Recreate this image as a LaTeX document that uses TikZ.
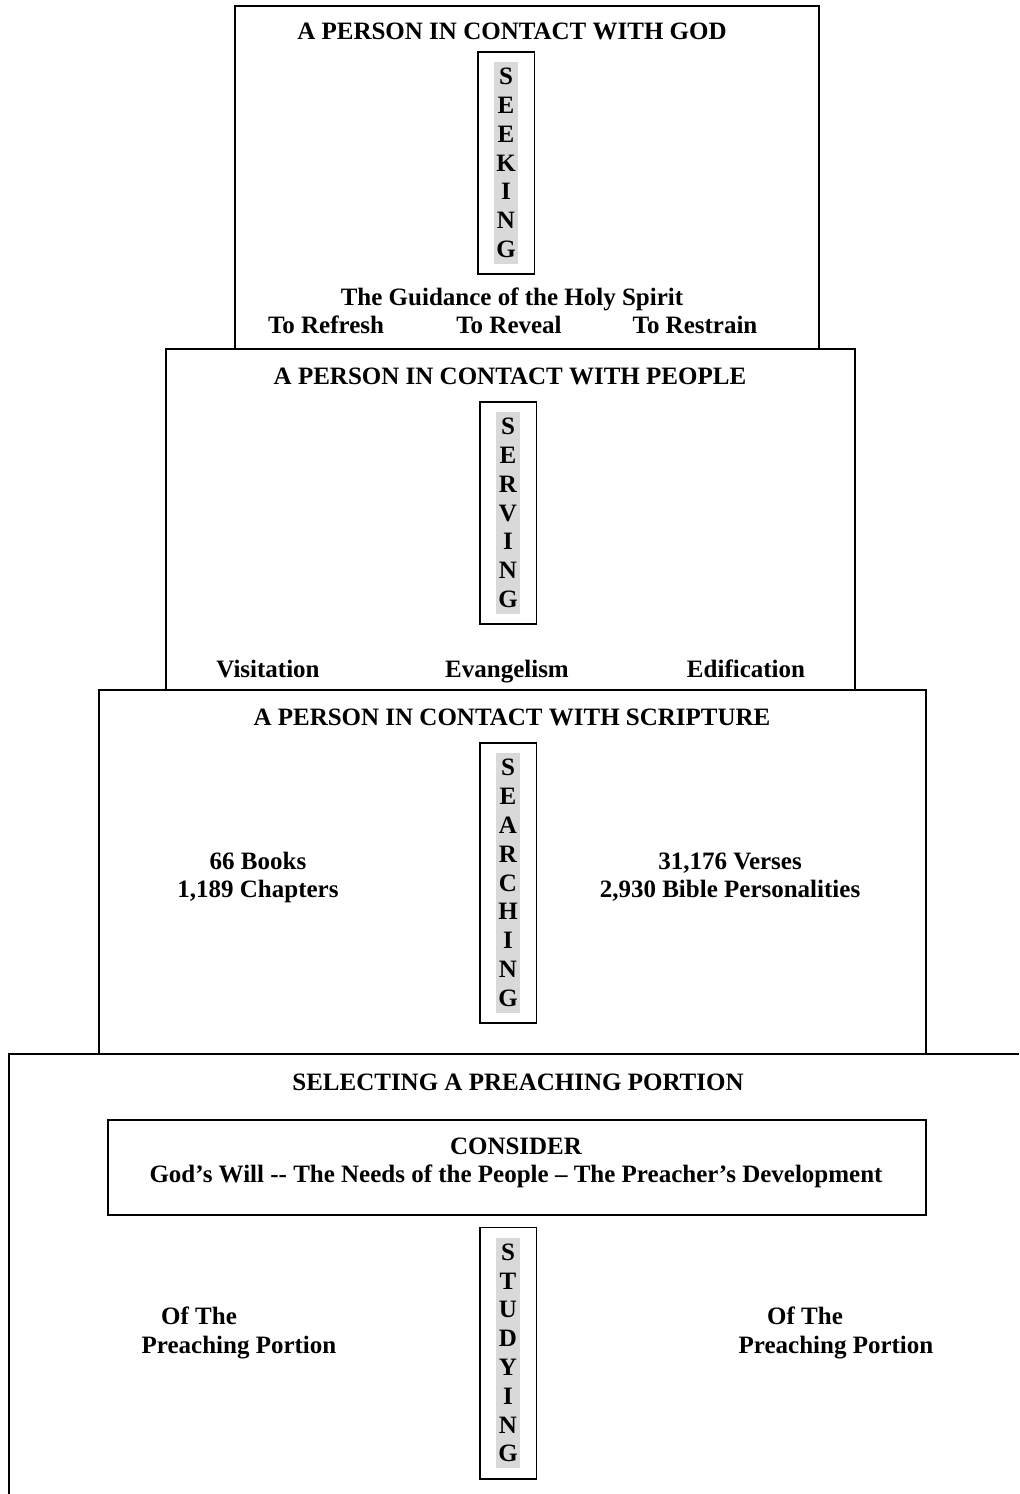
\documentclass[tikz,border=0pt]{standalone}
\usepackage{fontspec}
\setmainfont{Liberation Serif}
\usetikzlibrary{positioning,fit}

\begin{document}
\begin{tikzpicture}[
    x=0.5pt, y=-0.5pt,
    tier/.style={draw, line width=1pt},
    heading/.style={font=\bfseries\fontsize{12.5}{14}\selectfont, align=center, inner sep=0pt},
    caption/.style={heading, text height=8.8pt, text depth=0pt},
    letters/.style={fill=black!15, font=\bfseries\fontsize{12.5}{14.4}\selectfont, align=center, text width=12pt, inner xsep=0pt, inner ysep=3pt},
    wordbox/.style={draw, line width=0.9pt, inner xsep=8pt, inner ysep=5pt}
]
    \useasboundingbox (0,0) rectangle (1019,1494);

    % Tiers
    \draw[tier] (235,349) -- (235,6) -- (819,6) -- (819,349);
    \draw[tier] (166,690) -- (166,349) -- (855,349) -- (855,690);
    \draw[tier] (99,1054) -- (99,690) -- (926,690) -- (926,1054);
    \draw[tier] (9,1494) -- (9,1054) -- (1019,1054);

    % Contact with God
    \node[caption] (god) at (512,31) {A PERSON IN CONTACT WITH GOD};
    \node[letters] (seek) at (506,163) {S\\E\\E\\K\\I\\N\\G};
    \node[wordbox, fit=(seek)] (seekbox) {};
    \node[caption] (spirit) at (512,297) {The Guidance of the Holy Spirit};
    \node[caption] (refresh) at (326,325) {To Refresh};
    \node[caption] (reveal) at (509,325) {To Reveal};
    \node[caption] (restrain) at (695,325) {To Restrain};

    % Contact with people
    \node[caption] (people) at (510,376) {A PERSON IN CONTACT WITH PEOPLE};
    \node[letters] (serve) at (508,513) {S\\E\\R\\V\\I\\N\\G};
    \node[wordbox, fit=(serve)] (servebox) {};
    \node[caption] (visit) at (268,669) {Visitation};
    \node[caption] (evang) at (507,669) {Evangelism};
    \node[caption] (edify) at (746,669) {Edification};

    % Contact with scripture
    \node[caption] (scripture) at (512,717) {A PERSON IN CONTACT WITH SCRIPTURE};
    \node[letters] (search) at (508,883) {S\\E\\A\\R\\C\\H\\I\\N\\G};
    \node[wordbox, fit=(search)] (searchbox) {};
    \node[heading] (books) at (258,877) {66 Books\\1,189 Chapters};
    \node[heading] (verses) at (730,877) {31,176 Verses\\2,930 Bible Personalities};

    % Preaching portion
    \node[caption] (select) at (518,1082) {SELECTING A PREACHING PORTION};
    \node[tier, minimum width=409pt, minimum height=47.5pt] (consbox) at (517,1167.5) {};
    \node[heading] (consider) at (516,1163) {CONSIDER\\God’s Will -{}- The Needs of the People – The Preacher’s Development};
    \node[letters] (study) at (508,1353) {S\\T\\U\\D\\Y\\I\\N\\G};
    \node[wordbox, fit=(study)] (studybox) {};
    \node[caption] (ofleft) at (199,1316) {Of The};
    \node[caption] (portleft) at (239,1345) {Preaching Portion};
    \node[caption] (ofright) at (805,1316) {Of The};
    \node[caption] (portright) at (836,1345) {Preaching Portion};
\end{tikzpicture}
\end{document}
